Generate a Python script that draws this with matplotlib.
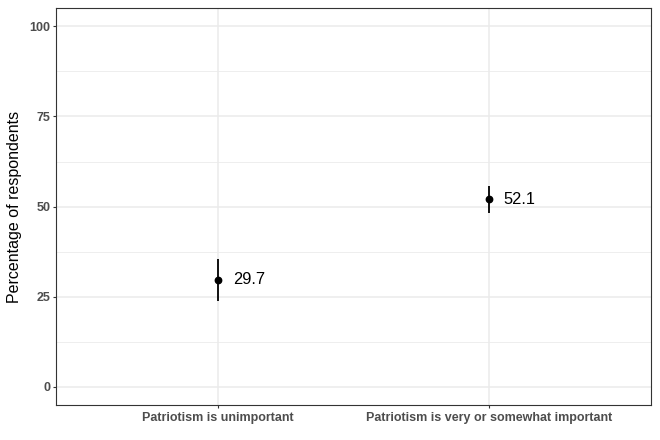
import matplotlib
matplotlib.use("Agg")
import matplotlib.pyplot as plt

categories = ["Patriotism is unimportant", "Patriotism is very or somewhat important"]
values = [29.7, 52.1]
lower = [23.8, 48.3]
upper = [35.6, 55.7]
labels = ["29.7", "52.1"]
yticks = [0, 25, 50, 75, 100]

plt.rcParams['font.family'] = ['Liberation Sans', 'DejaVu Sans']

fig = plt.figure(figsize=(6.6, 4.4), dpi=100)
ax = fig.add_axes([55.5/660, 35/440, (651.3-55.5)/660, (405-8.3)/440])

xs = list(range(1, len(categories) + 1))
ax.set_xlim(0.4, len(categories) + 0.6)
ax.set_ylim(-5, 105)

# grid
for y in [12.5, 37.5, 62.5, 87.5]:
    ax.axhline(y, color='#EBEBEB', lw=0.6, zorder=0)
for y in yticks:
    ax.axhline(y, color='#EBEBEB', lw=1.1, zorder=0)
for x in xs:
    ax.axvline(x, color='#EBEBEB', lw=1.1, zorder=0)

for x, v, lo, hi, lab in zip(xs, values, lower, upper, labels):
    ax.plot([x, x], [lo, hi], color='black', lw=1.3, zorder=3, solid_capstyle='butt')
    ax.plot([x], [v], 'o', color='black', ms=4.6, zorder=4)
    ax.text(x + 0.055, v, lab, ha='left', va='center', fontsize=11.8, color='black')

ax.set_xticks(xs)
ax.set_xticklabels(categories, fontsize=9, fontweight='bold', color='#4D4D4D')
ax.set_yticks(yticks)
ax.set_yticklabels([str(t) for t in yticks], fontsize=9, fontweight='bold', color='#4D4D4D')
ax.tick_params(axis='both', length=2.3, width=0.8, color='#333333')
ax.tick_params(axis='y', pad=1.5)
ax.tick_params(axis='x', pad=3)
ax.set_ylabel("Percentage of respondents", fontsize=11.5, color='black', labelpad=5)
for s in ax.spines.values():
    s.set_color('#333333')
    s.set_linewidth(0.8)

fig.savefig("out.png", dpi=100)
